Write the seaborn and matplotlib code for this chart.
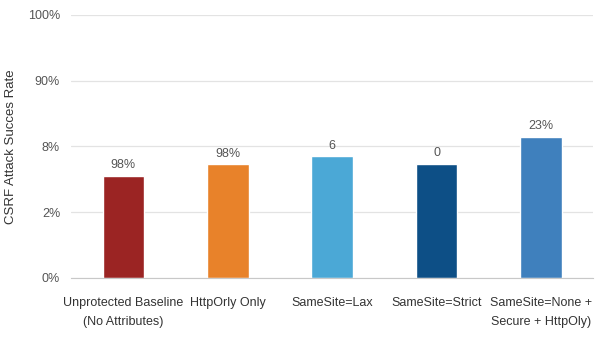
import numpy as np
import pandas as pd
import seaborn as sns
import matplotlib.pyplot as plt

# data (y is in gridline units, the axis labels are as printed)
categories = ['Unprotected Baseline\n(No Attributes)', 'HttpOrly Only', 'SameSite=Lax',
              'SameSite=Strict', 'SameSite=None +\nSecure + HttpOly)']
values = [1.55, 1.73, 1.85, 1.74, 2.15]
bar_labels = ['98%', '98%', '6', '0', '23%']
colors = ['#9B2423', '#E8822A', '#4BA8D6', '#0D4F86', '#3F80BD']
ytick_labels = ['0%', '2%', '8%', '90%', '100%']

df = pd.DataFrame({'category': categories, 'value': values})

sns.set_style('white')
plt.rcParams['font.family'] = ['Liberation Sans', 'DejaVu Sans']

fig = plt.figure(figsize=(6.14, 3.47), dpi=100)
ax = fig.add_axes([0.116, 0.199, 0.85, 0.758])

sns.barplot(data=df, x='category', y='value', hue='category', palette=colors,
            legend=False, width=0.4, saturation=1, ax=ax)

for i, (v, lab) in enumerate(zip(values, bar_labels)):
    ax.text(i, v + 0.07, lab, ha='center', va='bottom', fontsize=9, color='#555555')

ax.set_xlim(-0.5, 4.5)
ax.set_ylim(0, 4)
ax.set_yticks(range(len(ytick_labels)))
ax.set_yticklabels(ytick_labels, fontsize=9, color='#555555')
ax.yaxis.grid(True, color='#e3e3e3', linewidth=0.9)
ax.set_axisbelow(True)
ax.tick_params(axis='y', length=0, pad=8)

ax.set_xticks(range(len(categories)))
ax.set_xticklabels(categories, fontsize=9, color='#333333', linespacing=1.7)
ax.tick_params(axis='x', length=0, pad=14)
ax.set_xticks([0.5, 1.5, 2.5, 3.5], minor=True)
ax.tick_params(axis='x', which='minor', length=4, color='#cccccc', direction='out')

ax.set_xlabel('')
ax.set_ylabel('CSRF Attack Succes Rate', fontsize=9.5, color='#333333')
ax.yaxis.set_label_coords(-0.103, 0.5)

for s in ['top', 'right', 'left']:
    ax.spines[s].set_visible(False)
ax.spines['bottom'].set_color('#c8c8c8')

fig.savefig('out.png', dpi=100)
